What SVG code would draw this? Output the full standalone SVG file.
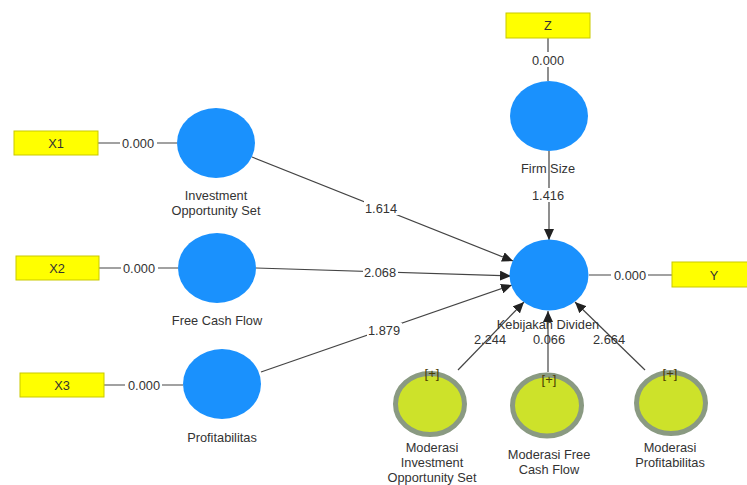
<svg xmlns="http://www.w3.org/2000/svg" width="747" height="485" viewBox="0 0 747 485">
<defs>
<style>
text{font-family:"Liberation Sans",Arial,sans-serif;font-size:12.8px;fill:#333;text-anchor:middle;}
.ind{fill:#ffff00;stroke:#c9c900;stroke-width:1;}
.lv{fill:#1a91fd;}
.mod{fill:#cde22a;stroke:#8a9a82;stroke-width:5;}
.ln{stroke:#444;stroke-width:1.2;fill:none;}
.arr{stroke:#444;stroke-width:1.2;fill:none;marker-end:url(#ah);}
.bg{fill:#fff;}
.plus{fill:#4a3c00;font-size:13px;}
</style>
<marker id="ah" markerUnits="userSpaceOnUse" markerWidth="12" markerHeight="10" refX="11" refY="5" orient="auto">
<path d="M0,0 L11,5 L0,10 z" fill="#222"/>
</marker>
</defs>
<rect width="747" height="485" fill="#fff"/>
<g id="connectors">
<line class="ln" x1="98" y1="143" x2="177" y2="143"/>
<line class="ln" x1="99" y1="268" x2="178" y2="268"/>
<line class="ln" x1="104" y1="385" x2="183" y2="385"/>
<line class="ln" x1="548" y1="38" x2="548" y2="81"/>
<line class="ln" x1="589" y1="275" x2="672" y2="275"/>
<line class="arr" x1="252" y1="157" x2="513" y2="261"/>
<line class="arr" x1="256" y1="268" x2="511" y2="276"/>
<line class="arr" x1="261" y1="372" x2="512" y2="285"/>
<line class="arr" x1="549" y1="151" x2="549" y2="240"/>
<line class="arr" x1="458" y1="370" x2="524" y2="302"/>
<line class="arr" x1="548" y1="372" x2="548" y2="311"/>
<line class="arr" x1="645" y1="370" x2="575" y2="302"/>
<rect class="bg" x="120" y="136" width="37" height="14"/><text x="138" y="147.5">0.000</text>
<rect class="bg" x="121" y="261" width="37" height="14"/><text x="139" y="272.5">0.000</text>
<rect class="bg" x="125" y="378" width="37" height="14"/><text x="144" y="389.5">0.000</text>
<rect class="bg" x="530" y="52" width="37" height="15"/><text x="548" y="64.5">0.000</text>
<rect class="bg" x="611" y="268" width="37" height="14"/><text x="630" y="279.5">0.000</text>
<rect class="bg" x="364" y="201" width="35" height="14"/><text x="381" y="212.5">1.614</text>
<rect class="bg" x="363" y="265" width="35" height="14"/><text x="380" y="276.5">2.068</text>
<rect class="bg" x="367" y="323" width="35" height="14"/><text x="384" y="334.5">1.879</text>
<rect class="bg" x="531" y="188" width="35" height="14"/><text x="548" y="199.5">1.416</text>
<text x="490" y="344">2.244</text>
<text x="549" y="344">0.066</text>
<text x="609" y="344">2.664</text>
</g>
<g id="X1"><rect class="ind" x="14" y="131" width="84" height="24"/><text x="56" y="147.5">X1</text></g>
<g id="X2"><rect class="ind" x="16" y="256" width="83" height="24"/><text x="57" y="272.5">X2</text></g>
<g id="X3"><rect class="ind" x="20" y="373" width="84" height="24"/><text x="62" y="389.5">X3</text></g>
<g id="Z"><rect class="ind" x="506" y="13" width="84" height="25"/><text x="548" y="30">Z</text></g>
<g id="Y"><rect class="ind" x="672" y="262" width="84" height="25"/><text x="714" y="279.5">Y</text></g>
<g id="ios"><ellipse class="lv" cx="216" cy="143" rx="39" ry="35"/><text x="216" y="200">Investment</text><text x="216" y="215">Opportunity Set</text></g>
<g id="fcf"><ellipse class="lv" cx="217" cy="268" rx="39" ry="35"/><text x="217" y="324.5">Free Cash Flow</text></g>
<g id="prof"><ellipse class="lv" cx="222" cy="384" rx="39" ry="35"/><text x="222" y="441.5">Profitabilitas</text></g>
<g id="firmsize"><ellipse class="lv" cx="549" cy="116" rx="39" ry="35"/><text x="548" y="172.5">Firm Size</text></g>
<g id="kd"><ellipse class="lv" cx="549" cy="275" rx="39.5" ry="35.5"/><text x="548" y="329">Kebijakan Dividen</text></g>
<g id="mios"><ellipse class="mod" cx="430" cy="404" rx="34.5" ry="30.5"/><text class="plus" x="432" y="378">[+]</text><text x="432" y="452">Moderasi</text><text x="432" y="467">Investment</text><text x="432" y="482">Opportunity Set</text></g>
<g id="mfcf"><ellipse class="mod" cx="547" cy="405.5" rx="34.5" ry="30.5"/><text class="plus" x="549" y="384">[+]</text><text x="549" y="459">Moderasi Free</text><text x="549" y="474">Cash Flow</text></g>
<g id="mp"><ellipse class="mod" cx="671" cy="403" rx="34.5" ry="30.5"/><text class="plus" x="670" y="378">[+]</text><text x="670" y="452">Moderasi</text><text x="670" y="467">Profitabilitas</text></g>
</svg>
